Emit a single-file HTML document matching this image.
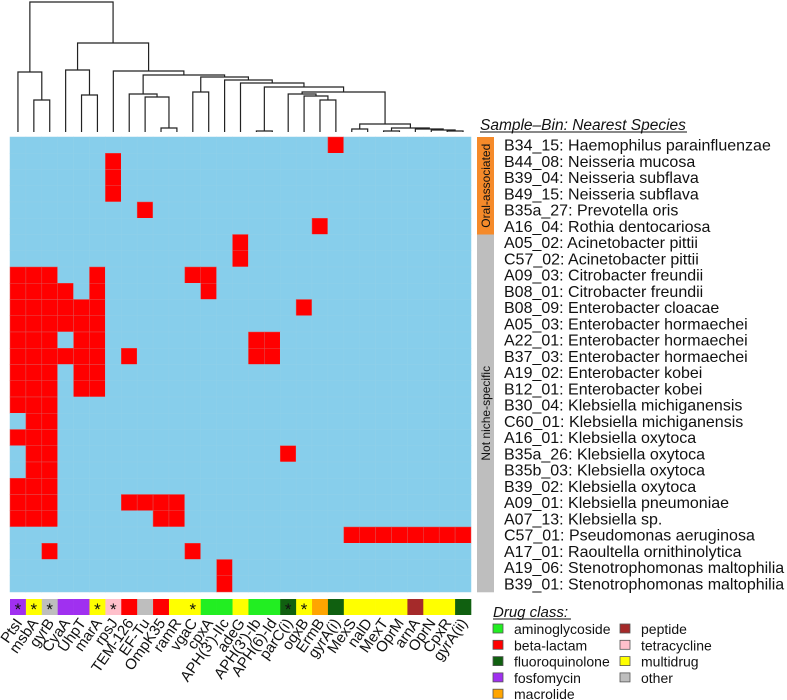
<!DOCTYPE html>
<html><head><meta charset="utf-8"><style>
body{margin:0;background:#fff;width:787px;height:700px;overflow:hidden;font-family:"Liberation Sans",Arial,sans-serif}
svg{display:block}
text{font-family:"Liberation Sans",Arial,sans-serif}
</style></head><body>
<svg id="chart" width="787" height="700"></svg>
<script>
const genes=["PtsI","msbA","gyrB","CyaA","UhpT","marA","rpsJ","TEM-126","EF-Tu","OmpK35","ramR","vgaC","cpxA","APH(3')-IIc","adeG","APH(3')-Ib","APH(6)-Id","parC(i)","oqxB","ErmB","gyrA(i)","MexS","nalD","MexT","OprM","arnA","OprN","CpxR","gyrA(ii)"];
const geneClass=["fosfomycin","multidrug","other","fosfomycin","fosfomycin","multidrug","tetracycline","beta-lactam","other","beta-lactam","multidrug","multidrug","aminoglycoside","aminoglycoside","multidrug","aminoglycoside","aminoglycoside","fluoroquinolone","multidrug","macrolide","fluoroquinolone","multidrug","multidrug","multidrug","multidrug","peptide","multidrug","multidrug","fluoroquinolone"];
const geneStar=[1,1,1,0,0,1,1,0,0,0,0,1,0,0,0,0,0,1,1,0,0,0,0,0,0,0,0,0,0];
const samples=["B34_15: Haemophilus parainfluenzae","B44_08: Neisseria mucosa","B39_04: Neisseria subflava","B49_15: Neisseria subflava","B35a_27: Prevotella oris","A16_04: Rothia dentocariosa","A05_02: Acinetobacter pittii","C57_02: Acinetobacter pittii","A09_03: Citrobacter freundii","B08_01: Citrobacter freundii","B08_09: Enterobacter cloacae","A05_03: Enterobacter hormaechei","A22_01: Enterobacter hormaechei","B37_03: Enterobacter hormaechei","A19_02: Enterobacter kobei","B12_01: Enterobacter kobei","B30_04: Klebsiella michiganensis","C60_01: Klebsiella michiganensis","A16_01: Klebsiella oxytoca","B35a_26: Klebsiella oxytoca","B35b_03: Klebsiella oxytoca","B39_02: Klebsiella oxytoca","A09_01: Klebsiella pneumoniae","A07_13: Klebsiella sp.","C57_01: Pseudomonas aeruginosa","A17_01: Raoultella ornithinolytica","A19_06: Stenotrophomonas maltophilia","B39_01: Stenotrophomonas maltophilia"];
const sampleGroup=["oral","oral","oral","oral","oral","oral","not","not","not","not","not","not","not","not","not","not","not","not","not","not","not","not","not","not","not","not","not","not"];
const presence=[[20],[6],[6],[6],[8],[19],[14],[14],[0,1,2,5,11,12],[0,1,2,3,5,12],[0,1,2,3,4,5,18],[0,1,2,3,4,5],[0,1,2,4,5,15,16],[0,1,2,3,4,5,7,15,16],[0,1,2,4,5],[0,1,2,4,5],[0,1,2],[1,2],[0,1,2],[1,2,17],[1,2],[0,1,2],[0,1,2,7,8,9,10],[0,1,2,9,10],[21,22,23,24,25,26,27,28],[2,11],[13],[13]];
const classColors={"aminoglycoside":"#22ee22","beta-lactam":"#ff0000","fluoroquinolone":"#106010","fosfomycin":"#a030f0","macrolide":"#ffa500","peptide":"#a52a2a","tetracycline":"#ffc0cb","multidrug":"#ffff00","other":"#bebebe"};
const legendOrder=["aminoglycoside","beta-lactam","fluoroquinolone","fosfomycin","macrolide","peptide","tetracycline","multidrug","other"];
const tree=[[0,[1,2,100],72],[[3,[4,5,95],70],[6,[[7,[8,[9,10,128],97],94],[[11,12,92],[13,[14,[[15,16,131],[[17,[18,[19,20,100],96],94],[[21,22,129],[[23,24,131],[25,[26,[27,28,131],130],129],128],124],92],87],83],80],77],75],71],43],2];

const NS="http://www.w3.org/2000/svg";
const svg=document.getElementById('chart');
function mk(t,a,p){const e=document.createElementNS(NS,t);for(const k in a)e.setAttribute(k,a[k]);(p||svg).appendChild(e);return e;}
const X0=10,X1=471,Y0=137,Y1=592;
const cw=(X1-X0)/genes.length, ch=(Y1-Y0)/samples.length;
const xC=i=>X0+cw*i, yR=j=>Y0+ch*j;

mk('rect',{x:X0,y:Y0,width:X1-X0,height:Y1-Y0,fill:'#87ceeb'});
samples.forEach((s,j)=>{genes.forEach((g,i)=>{
  const on=presence[j].includes(i);
  const r=mk('rect',{x:xC(i),y:yR(j),width:cw,height:ch,fill:on?'#ff0000':'#87ceeb',stroke:on?'#e05050':'#8fd0ea','stroke-width':0.5});
  
  
});});

function draw(n){
  if(typeof n==='number')return {x:xC(n)+cw/2,y:132};
  const a=draw(n[0]),b=draw(n[1]),h=n[2];
  mk('path',{d:`M${a.x},${a.y}V${h}H${b.x}V${b.y}`,fill:'none',stroke:'#222','stroke-width':1.2});
  return {x:(a.x+b.x)/2,y:h};
}
draw(tree);

samples.forEach((s,j)=>{
  const r=mk('rect',{x:477,y:yR(j),width:17,height:ch+0.3,fill:sampleGroup[j]==='oral'?'#f58a2a':'#bebebe'});
  
  
  const t=mk('text',{x:504,y:yR(j)+ch/2+5.5,'font-size':16,fill:'#111'});
  t.textContent=s;
  
  
});
let t1=mk('text',{transform:`translate(490,${Y0+3*ch}) rotate(-90)`,'text-anchor':'middle','font-size':12,fill:'#111'});t1.textContent='Oral-associated';

let t2=mk('text',{transform:`translate(490,${Y0+17*ch}) rotate(-90)`,'text-anchor':'middle','font-size':12,fill:'#111'});t2.textContent='Not niche-specific';

let hd=mk('text',{x:480,y:130,'font-size':15.5,'font-style':'italic',fill:'#111'});hd.textContent='Sample–Bin: Nearest Species';

mk('line',{x1:480,y1:132,x2:687,y2:132,stroke:'#111','stroke-width':1});

genes.forEach((g,i)=>{
  const r=mk('rect',{x:xC(i),y:599,width:cw+0.3,height:16,fill:classColors[geneClass[i]]});
  
  
  if(geneStar[i]){const s=mk('text',{x:xC(i)+cw/2,y:615,'text-anchor':'middle','font-size':17,fill:'#111'});s.textContent='*';
    }
  const t=mk('text',{transform:`translate(${xC(i)+cw/2+5},623) rotate(-55)`,'text-anchor':'end','font-size':15,fill:'#111'});
  t.textContent=g;
  
  
});

let lh=mk('text',{x:493,y:617,'font-size':15,'font-style':'italic',fill:'#111'});lh.textContent='Drug class:';

mk('line',{x1:493,y1:619,x2:571,y2:619,stroke:'#111','stroke-width':1});
legendOrder.forEach((c,k)=>{
  const col=k<5?0:1,row=k<5?k:k-5;
  const x=col?620:493,y=624+row*16.3;
  const r=mk('rect',{x:x,y:y,width:10,height:9,fill:classColors[c],stroke:'#555','stroke-width':0.8});
  
  
  const t=mk('text',{x:x+21,y:y+10,'font-size':14,fill:'#111'});t.textContent=c;
  
  
});
</script>
</body></html>
